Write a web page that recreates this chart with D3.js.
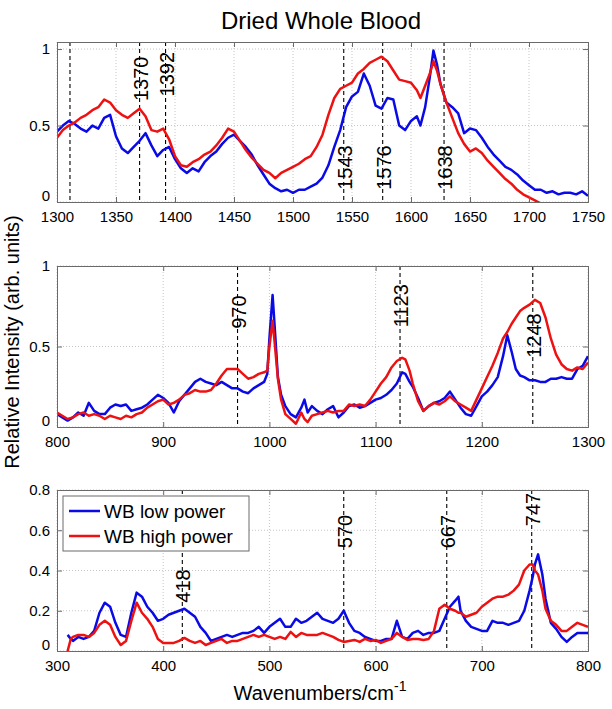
<!DOCTYPE html>
<html>
<head>
<meta charset="utf-8">
<script src="https://cdn.jsdelivr.net/npm/d3@7"></script>
<style>
body { margin: 0; background: #fff; }
svg { font-family: "Liberation Sans", Arial, Helvetica, sans-serif; }
</style>
</head>
<body>
<div class="chart"></div>
<script>
// ---- top panel: 1300-1750 cm-1 ----
const topWave = [1300,1305,1310,1315,1320,1325,1330,1335,1340,1345,
	1350,1355,1360,1365,1370,1375,1380,1385,1390,1395,
	1400,1405,1410,1415,1420,1425,1430,1435,1440,1445,
	1450,1455,1460,1465,1470,1475,1480,1485,1490,1495,
	1500,1505,1510,1515,1520,1525,1530,1535,1540,1545,
	1550,1555,1560,1565,1570,1575,1580,1585,1590,1595,
	1600,1605,1608,1612,1616,1619,1622,1625,1630,1635,
	1640,1645,1650,1655,1660,1665,1670,1675,1680,1685,
	1690,1695,1700,1705,1710,1715,1720,1725,1730,1735,
	1740,1745,1750];
const topLow = [0.46,0.50,0.53,0.51,0.48,0.46,0.50,0.48,0.55,0.57,
	0.43,0.35,0.32,0.36,0.40,0.45,0.37,0.30,0.34,0.36,
	0.28,0.22,0.19,0.22,0.20,0.26,0.30,0.33,0.38,0.42,
	0.44,0.40,0.36,0.31,0.24,0.18,0.12,0.09,0.07,0.08,
	0.06,0.08,0.08,0.10,0.12,0.16,0.24,0.36,0.47,0.62,
	0.69,0.72,0.84,0.76,0.63,0.61,0.68,0.67,0.50,0.47,
	0.53,0.56,0.50,0.62,0.82,0.99,0.90,0.77,0.65,0.62,
	0.58,0.45,0.48,0.47,0.42,0.36,0.31,0.27,0.23,0.21,
	0.18,0.14,0.11,0.08,0.08,0.06,0.07,0.05,0.06,0.06,
	0.05,0.07,0.04];
const topHigh = [0.42,0.47,0.50,0.52,0.55,0.57,0.60,0.62,0.67,0.65,
	0.60,0.57,0.55,0.58,0.61,0.56,0.47,0.46,0.48,0.41,
	0.30,0.24,0.23,0.26,0.28,0.31,0.33,0.37,0.42,0.48,
	0.46,0.40,0.34,0.29,0.25,0.21,0.19,0.155,0.19,0.21,
	0.23,0.25,0.28,0.30,0.36,0.44,0.57,0.68,0.74,0.76,
	0.78,0.84,0.87,0.91,0.93,0.95,0.92,0.86,0.80,0.79,
	0.78,0.73,0.68,0.76,0.84,0.92,0.86,0.77,0.65,0.55,
	0.45,0.38,0.33,0.35,0.32,0.27,0.23,0.19,0.15,0.12,
	0.08,0.05,0.03,0.01,-0.01,-0.02,-0.02,-0.03,-0.02,-0.03,
	-0.02,-0.03,-0.03];
const topTicks = [1300,1350,1400,1450,1500,1550,1600,1650,1700,1750];
const topPeakPos = [1311,1370,1392,1543,1576,1628];
const topPeakText = ['','1370','1392','1543','1576','1638'];
const topPeakTextAt = [null,0.66,0.69,0.08,0.08,0.08];

// ---- middle panel: 800-1300 cm-1 ----
const midWave = [800,805,810,815,820,825,830,835,840,845,
	850,855,860,865,870,875,880,885,890,895,
	900,905,910,915,920,925,930,935,940,945,
	950,955,960,965,970,975,980,985,990,995,
	998,1000,1003,1005,1008,1011,1015,1020,1025,1030,
	1033,1036,1040,1045,1050,1055,1060,1065,1070,1075,
	1080,1085,1090,1095,1100,1105,1110,1115,1120,1125,
	1128,1132,1135,1140,1145,1150,1155,1160,1165,1170,
	1175,1180,1185,1190,1195,1200,1205,1210,1215,1220,
	1224,1228,1232,1236,1240,1245,1250,1255,1260,1265,
	1270,1275,1280,1285,1290,1295,1300];
const midLow = [0.08,0.06,0.04,0.06,0.09,0.07,0.15,0.10,0.08,0.08,
	0.12,0.14,0.13,0.14,0.10,0.11,0.12,0.14,0.17,0.20,
	0.18,0.15,0.09,0.16,0.20,0.24,0.28,0.30,0.28,0.27,
	0.26,0.28,0.26,0.24,0.24,0.22,0.21,0.24,0.26,0.28,
	0.33,0.55,0.82,0.62,0.31,0.20,0.13,0.08,0.06,0.12,
	0.17,0.09,0.13,0.10,0.08,0.11,0.13,0.06,0.09,0.13,
	0.14,0.12,0.13,0.15,0.17,0.18,0.20,0.23,0.27,0.34,
	0.33,0.28,0.25,0.18,0.10,0.13,0.15,0.16,0.18,0.22,
	0.17,0.12,0.08,0.07,0.13,0.19,0.22,0.26,0.31,0.44,
	0.57,0.47,0.36,0.32,0.31,0.29,0.29,0.28,0.28,0.30,
	0.30,0.31,0.30,0.30,0.36,0.38,0.44];
const midHigh = [0.09,0.07,0.05,0.06,0.08,0.09,0.07,0.08,0.07,0.05,
	0.07,0.06,0.05,0.07,0.06,0.08,0.09,0.12,0.14,0.16,
	0.17,0.14,0.15,0.17,0.20,0.21,0.23,0.22,0.22,0.23,
	0.27,0.32,0.36,0.36,0.36,0.33,0.30,0.31,0.33,0.34,
	0.35,0.50,0.66,0.52,0.30,0.17,0.08,0.05,0.02,0.09,
	0.05,0.03,0.07,0.08,0.09,0.10,0.09,0.10,0.10,0.14,
	0.13,0.14,0.13,0.17,0.22,0.27,0.31,0.37,0.41,0.43,
	0.42,0.35,0.27,0.16,0.10,0.13,0.15,0.14,0.16,0.19,
	0.16,0.14,0.12,0.10,0.17,0.24,0.31,0.38,0.46,0.55,
	0.59,0.64,0.68,0.72,0.74,0.76,0.79,0.77,0.68,0.55,
	0.45,0.39,0.36,0.35,0.37,0.36,0.40];
const midTicks = [800,900,1000,1100,1200,1300];
const midPeakPos = [970,1123,1248];
const midPeakText = ['970','1123','1248'];
const midPeakTextAt = [0.61,0.62,0.43];

// ---- bottom panel: 300-800 cm-1 ----
const botWave = [310,313,315,320,325,330,335,340,345,350,
	355,360,365,370,375,380,385,390,395,400,
	405,410,415,420,425,430,435,440,445,450,
	455,460,465,470,475,480,485,490,495,500,
	505,510,515,520,525,530,535,540,545,550,
	555,560,565,570,575,580,585,590,595,600,
	605,610,615,620,625,630,635,640,645,650,
	655,660,665,670,675,678,680,685,690,695,
	700,705,710,715,720,725,730,735,740,745,
	748,750,753,757,760,765,770,775,780,785,
	790,795,800];
const botLow = [0.08,0.06,0.05,0.07,0.06,0.07,0.10,0.19,0.24,0.22,
	0.14,0.08,0.07,0.19,0.29,0.27,0.22,0.19,0.15,0.16,
	0.18,0.19,0.20,0.21,0.19,0.17,0.12,0.09,0.05,0.06,
	0.07,0.08,0.07,0.08,0.09,0.09,0.10,0.12,0.09,0.12,
	0.14,0.16,0.12,0.12,0.16,0.14,0.15,0.17,0.19,0.16,
	0.15,0.14,0.16,0.20,0.14,0.10,0.09,0.07,0.06,0.05,
	0.05,0.06,0.06,0.15,0.07,0.06,0.09,0.10,0.08,0.09,
	0.09,0.10,0.16,0.22,0.25,0.27,0.20,0.15,0.12,0.11,
	0.10,0.10,0.15,0.14,0.14,0.13,0.14,0.15,0.20,0.30,
	0.37,0.43,0.48,0.38,0.26,0.14,0.11,0.07,0.045,0.07,
	0.09,0.09,0.09];
const botHigh = [0.00,0.06,0.07,0.08,0.08,0.07,0.09,0.13,0.15,0.13,
	0.07,0.03,0.05,0.15,0.24,0.19,0.16,0.12,0.06,0.04,
	0.04,0.04,0.05,0.065,0.05,0.04,0.05,0.03,0.04,0.05,
	0.06,0.04,0.05,0.05,0.06,0.07,0.08,0.07,0.08,0.07,
	0.06,0.07,0.06,0.095,0.07,0.09,0.08,0.08,0.08,0.09,
	0.08,0.07,0.055,0.045,0.05,0.055,0.045,0.06,0.05,0.055,
	0.04,0.05,0.06,0.09,0.07,0.055,0.06,0.06,0.055,0.06,
	0.10,0.21,0.23,0.21,0.20,0.19,0.19,0.17,0.18,0.19,
	0.22,0.24,0.26,0.27,0.27,0.28,0.30,0.33,0.40,0.43,
	0.43,0.40,0.38,0.30,0.21,0.15,0.13,0.10,0.10,0.12,
	0.14,0.13,0.12];
const botTicks = [300,400,500,600,700,800];
const botPeakPos = [418,570,667,747];
const botPeakText = ['418','570','667','747'];
const botPeakTextAt = [0.24,0.51,0.51,0.62];

const seriesNames = ['WB low power', 'WB high power'];
const seriesColors = ['#0a0ae6', '#ee1111'];

const width = 612;
const height = 709;
const left = 57, right = 588;

var svg = d3.select(".chart").append("svg")
	.attr("width", width)
	.attr("height", height);

var panels = [
	{ id: 'top', y0: 42, y1: 202, xd: [1300, 1750], yd: [0, 1.046], xt: topTicks, yt: [0, 0.5, 1],
		wave: topWave, low: topLow, high: topHigh, pos: topPeakPos, text: topPeakText, at: topPeakTextAt },
	{ id: 'mid', y0: 266, y1: 427, xd: [800, 1300], yd: [0, 1], xt: midTicks, yt: [0, 0.5, 1],
		wave: midWave, low: midLow, high: midHigh, pos: midPeakPos, text: midPeakText, at: midPeakTextAt },
	{ id: 'bot', y0: 490, y1: 651, xd: [300, 800], yd: [0, 0.8], xt: botTicks, yt: [0, 0.2, 0.4, 0.6, 0.8],
		wave: botWave, low: botLow, high: botHigh, pos: botPeakPos, text: botPeakText, at: botPeakTextAt }
];

panels.forEach(drawPanel);

function drawPanel(p) {
	var x = d3.scaleLinear().domain(p.xd).range([left, right]);
	var y = d3.scaleLinear().domain(p.yd).range([p.y1, p.y0]);
	var g = svg.append("g");

	g.append("clipPath").attr("id", "clip-" + p.id)
		.append("rect")
		.attr("x", left).attr("y", p.y0)
		.attr("width", right - left).attr("height", p.y1 - p.y0);

	// grid (dotted)
	g.selectAll(".vgrid").data(p.xt).enter().append("line")
		.attr("x1", d => x(d)).attr("x2", d => x(d))
		.attr("y1", p.y0).attr("y2", p.y1)
		.attr("stroke", "#b8b8b8").attr("stroke-width", 0.8)
		.attr("stroke-dasharray", "1,2");
	g.selectAll(".hgrid").data(p.yt).enter().append("line")
		.attr("x1", left).attr("x2", right)
		.attr("y1", d => y(d)).attr("y2", d => y(d))
		.attr("stroke", "#b8b8b8").attr("stroke-width", 0.8)
		.attr("stroke-dasharray", "1,2");

	// dashed peak markers
	g.selectAll(".peak").data(p.pos).enter().append("line")
		.attr("x1", d => x(d)).attr("x2", d => x(d))
		.attr("y1", p.y0).attr("y2", p.y1)
		.attr("stroke", "#000").attr("stroke-width", 1.1)
		.attr("stroke-dasharray", "4,3");

	// spectra
	var line = d3.line()
		.x((d, i) => x(p.wave[i]))
		.y(d => y(d));
	var plot = g.append("g").attr("clip-path", "url(#clip-" + p.id + ")");
	[p.low, p.high].forEach(function (vals, k) {
		plot.append("path")
			.datum(vals)
			.attr("d", line)
			.attr("fill", "none")
			.attr("stroke", seriesColors[k])
			.attr("stroke-width", 2.5)
			.attr("stroke-linejoin", "round");
	});

	// peak labels, rotated like matlab text(...,'Rotation',90)
	p.pos.forEach(function (w, i) {
		if (!p.text[i]) return;
		var tx = x(w) + 8, ty = y(p.at[i]);
		g.append("text")
			.attr("transform", "translate(" + tx + "," + ty + ") rotate(-90)")
			.attr("font-size", "20px")
			.attr("fill", "#000")
			.text(p.text[i]);
	});

	// axes box + inward ticks
	var xAxisB = d3.axisBottom(x).tickValues(p.xt).tickSize(-5).tickPadding(7).tickFormat(d3.format("d"));
	var xAxisT = d3.axisTop(x).tickValues(p.xt).tickSize(-5).tickFormat("");
	var yAxisL = d3.axisLeft(y).tickValues(p.yt).tickSize(-5).tickPadding(7).tickFormat(d => String(d));
	var yAxisR = d3.axisRight(y).tickValues(p.yt).tickSize(-5).tickFormat("");

	g.append("g").attr("transform", "translate(0," + p.y1 + ")").call(xAxisB)
		.selectAll("text").attr("dy", "0.85em");
	g.append("g").attr("transform", "translate(0," + p.y0 + ")").call(xAxisT);
	var yl = g.append("g").attr("transform", "translate(" + left + ",0)").call(yAxisL);
	g.append("g").attr("transform", "translate(" + right + ",0)").call(yAxisR);

	// matlab lifts the zero label a little off the x tick labels
	yl.selectAll(".tick").filter(d => d === 0).select("text").attr("y", -6);

	g.selectAll(".domain").attr("stroke", "#6a6a6a").attr("stroke-width", 1);
	g.selectAll(".tick line").attr("stroke", "#6a6a6a");
	g.selectAll(".tick text").attr("font-size", "15px").attr("fill", "#000")
		.attr("font-family", "Liberation Sans, Arial, sans-serif");

	if (p.id === 'bot') drawLegend();
}

function drawLegend() {
	var lg = svg.append("g").attr("transform", "translate(63,496)");
	lg.append("rect")
		.attr("width", 186).attr("height", 55)
		.attr("fill", "#fff").attr("stroke", "#6a6a6a").attr("stroke-width", 1);
	seriesNames.forEach(function (name, i) {
		var yy = 15 + i * 25;
		lg.append("line")
			.attr("x1", 6).attr("x2", 37)
			.attr("y1", yy).attr("y2", yy)
			.attr("stroke", seriesColors[i]).attr("stroke-width", 2.5);
		lg.append("text")
			.attr("x", 41).attr("y", yy + 7)
			.attr("font-size", "19px")
			.text(name);
	});
}

// title and axis labels
svg.append("text")
	.attr("x", 321).attr("y", 29)
	.attr("text-anchor", "middle")
	.attr("font-size", "24px")
	.text("Dried Whole Blood");

svg.append("text")
	.attr("transform", "translate(19,342) rotate(-90)")
	.attr("text-anchor", "middle")
	.attr("font-size", "20px")
	.text("Relative Intensity (arb. units)");

var xl = svg.append("text")
	.attr("x", 320).attr("y", 700)
	.attr("text-anchor", "middle")
	.attr("font-size", "20px");
xl.append("tspan").text("Wavenumbers/cm");
xl.append("tspan").attr("dy", -9).attr("font-size", "14px").text("-1");
</script>
</body>
</html>
